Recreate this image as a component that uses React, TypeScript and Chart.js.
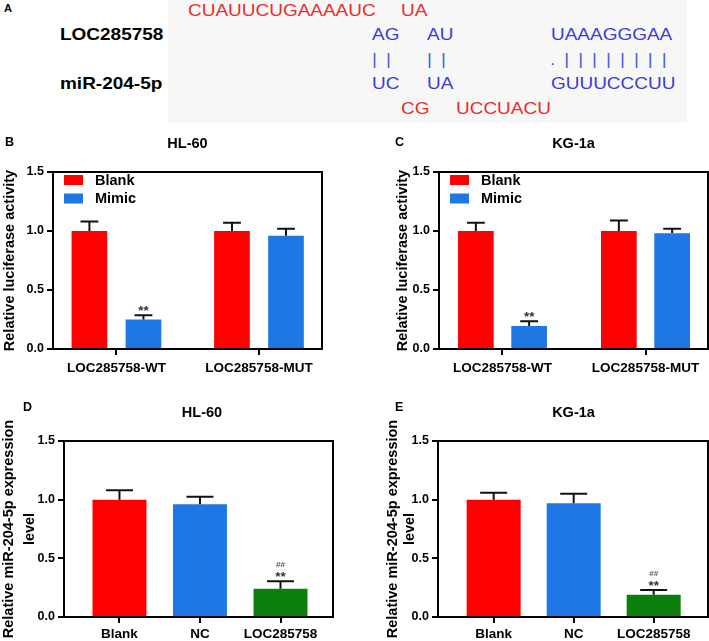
import React, { useEffect, useRef } from 'react';
import { Chart, registerables } from 'chart.js';

Chart.register(...registerables);

const FONT = 'Arial, "Liberation Sans", Helvetica, sans-serif';
Chart.defaults.font.family = FONT;
Chart.defaults.color = '#000';

// ---------- Panel A: sequence pairing ----------
const lncName = 'LOC285758';
const mirName = 'miR-204-5p';
const lncUnpaired = ['CUAUUCUGAAAAUC', 'UA'];
const lncPaired = ['AG', 'AU', 'UAAAGGGAA'];
const pairMarks = ['| |', '| |', '. | | | | | | | |'];
const mirPaired = ['UC', 'UA', 'GUUUCCCUU'];
const mirUnpaired = ['CG', 'UCCUACU'];

// ---------- Panels B / C: luciferase ----------
const lucCategories = ['LOC285758-WT', 'LOC285758-MUT'];
const lucSeriesNames = ['Blank', 'Mimic'];
const hl60LucBlank = [1.0, 1.0];
const hl60LucBlankErr = [0.08, 0.07];
const hl60LucMimic = [0.25, 0.96];
const hl60LucMimicErr = [0.035, 0.06];
const hl60LucMimicSig = [['**'], []];
const kgLucBlank = [1.0, 1.0];
const kgLucBlankErr = [0.07, 0.09];
const kgLucMimic = [0.195, 0.98];
const kgLucMimicErr = [0.04, 0.04];
const kgLucMimicSig = [['**'], []];

// ---------- Panels D / E: miR-204-5p expression ----------
const exprCategories = ['Blank', 'NC', 'LOC285758'];
const hl60Expr = [1.0, 0.96, 0.24];
const hl60ExprErr = [0.08, 0.065, 0.065];
const hl60ExprSig = [[], [], ['##', '**']];
const kgExpr = [1.0, 0.97, 0.19];
const kgExprErr = [0.06, 0.08, 0.04];
const kgExprSig = [[], [], ['##', '**']];

const yTicks = [0, 0.5, 1.0, 1.5];

const RED = '#ff0000';
const BLUE = '#1f77e6';
const GREEN = '#0b7f0b';
const TXT_RED = '#ec2b2b';
const TXT_BLUE = '#3b3bd6';
const PIPE_BLUE = '#4763e0';

type Series = { label: string; values: number[]; errors: number[]; color: string | string[]; sig?: string[][] };

type PanelCfg = {
  canvas: { left: number; top: number; width: number; height: number };
  plot: { left: number; top: number; right: number; bottom: number };
  categories: string[];
  series: Series[];
  xRange: [number, number];
  yTitle: string | string[];
  yTitleLineHeight: number;
  yTitlePad: number;
  xTickPad: number;
  categoryPercentage: number;
  barPercentage: number;
  legend: boolean;
};

const decorPlugin = {
  id: 'decor',
  afterDatasetsDraw(chart: any, _args: any, opts: any) {
    const { ctx, chartArea: a } = chart;
    const yScale = chart.scales.y;
    ctx.save();
    chart.data.datasets.forEach((ds: any, di: number) => {
      const meta = chart.getDatasetMeta(di);
      meta.data.forEach((bar: any, i: number) => {
        const val = ds.data[i].y;
        const err = ds.errors[i];
        const topPx = yScale.getPixelForValue(val + err);
        const half = bar.width / 4;
        ctx.strokeStyle = '#111';
        ctx.lineWidth = 2;
        ctx.beginPath();
        ctx.moveTo(bar.x, bar.y);
        ctx.lineTo(bar.x, topPx);
        ctx.moveTo(bar.x - half, topPx);
        ctx.lineTo(bar.x + half, topPx);
        ctx.stroke();
        const marks: string[] = (ds.sig && ds.sig[i]) || [];
        let base = topPx - 0.5;
        for (let k = marks.length - 1; k >= 0; k--) {
          const m = marks[k];
          const isHash = m.includes('#');
          ctx.font = `bold ${isHash ? 8 : 13.5}px ${FONT}`;
          ctx.fillStyle = isHash ? '#555' : '#333';
          ctx.textAlign = 'center';
          ctx.textBaseline = 'alphabetic';
          ctx.fillText(m, bar.x, base);
          base -= 13.5;
        }
      });
    });
    ctx.strokeStyle = '#000';
    ctx.lineWidth = 2;
    ctx.strokeRect(a.left, a.top, a.right - a.left, a.bottom - a.top);
    if (opts && opts.show) {
      chart.data.datasets.forEach((ds: any, di: number) => {
        const y0 = a.top + 3 + di * 18.5;
        ctx.fillStyle = ds.backgroundColor;
        ctx.fillRect(a.left + 11, y0, 19, 10);
        ctx.fillStyle = '#000';
        ctx.font = `bold 14.5px ${FONT}`;
        ctx.textAlign = 'left';
        ctx.textBaseline = 'middle';
        ctx.fillText(ds.label, a.left + 42, y0 + 5.5);
      });
    }
    ctx.restore();
  },
};

function BarPanel({ cfg }: { cfg: PanelCfg }) {
  const ref = useRef<HTMLCanvasElement>(null);
  useEffect(() => {
    const c = cfg.canvas;
    const p = cfg.plot;
    const chart = new Chart(ref.current as HTMLCanvasElement, {
      type: 'bar',
      data: {
        datasets: cfg.series.map((s) => ({
          label: s.label,
          data: s.values.map((v, i) => ({ x: i, y: v })),
          backgroundColor: s.color as any,
          borderWidth: 0,
          categoryPercentage: cfg.categoryPercentage,
          barPercentage: cfg.barPercentage,
          errors: s.errors,
          sig: s.sig,
        })) as any,
      },
      options: {
        responsive: false,
        animation: false,
        devicePixelRatio: 1,
        events: [],
        layout: {
          padding: { top: p.top - c.top, right: c.left + c.width - p.right, bottom: 0, left: 0 },
        },
        plugins: {
          legend: { display: false },
          title: { display: false },
          tooltip: { enabled: false },
          decor: { show: cfg.legend },
        } as any,
        scales: {
          x: {
            type: 'linear',
            min: cfg.xRange[0],
            max: cfg.xRange[1],
            offset: false,
            afterBuildTicks: (s: any) => {
              s.ticks = cfg.categories.map((_, i) => ({ value: i }));
            },
            afterFit: (s: any) => {
              s.height = c.top + c.height - p.bottom;
            },
            ticks: {
              callback: (v: any) => cfg.categories[Math.round(Number(v))],
              font: { size: 13.5, weight: 'bold', family: FONT },
              color: '#000',
              padding: cfg.xTickPad,
              maxRotation: 0,
              autoSkip: false,
            },
            grid: {
              display: true,
              drawOnChartArea: false,
              drawTicks: true,
              tickLength: 6,
              color: '#000',
              lineWidth: 2,
              offset: false,
            },
            border: { display: false },
          } as any,
          y: {
            type: 'linear',
            min: 0,
            max: 1.5,
            afterBuildTicks: (s: any) => {
              s.ticks = yTicks.map((v) => ({ value: v }));
            },
            afterFit: (s: any) => {
              s.width = p.left - c.left;
            },
            ticks: {
              callback: (v: any) => Number(v).toFixed(1),
              font: { size: 12.5, weight: 'bold', family: FONT },
              color: '#000',
              padding: 3,
            },
            grid: {
              display: true,
              drawOnChartArea: false,
              drawTicks: true,
              tickLength: 6,
              color: '#000',
              lineWidth: 2,
            },
            border: { display: false },
            title: {
              display: true,
              text: cfg.yTitle as any,
              color: '#000',
              font: { size: 14.5, weight: 'bold', family: FONT, lineHeight: cfg.yTitleLineHeight },
              padding: { top: cfg.yTitlePad, bottom: 0 },
            },
          } as any,
        },
      },
      plugins: [decorPlugin as any],
    });
    return () => chart.destroy();
  }, []);
  const c = cfg.canvas;
  return (
    <canvas
      ref={ref}
      width={c.width}
      height={c.height}
      style={{ position: 'absolute', left: c.left, top: c.top, width: c.width, height: c.height }}
    />
  );
}

const panelB: PanelCfg = {
  canvas: { left: 0, top: 125, width: 335, height: 260 },
  plot: { left: 53, top: 172, right: 322, bottom: 349 },
  categories: lucCategories,
  series: [
    { label: lucSeriesNames[0], values: hl60LucBlank, errors: hl60LucBlankErr, color: RED },
    { label: lucSeriesNames[1], values: hl60LucMimic, errors: hl60LucMimicErr, color: BLUE, sig: hl60LucMimicSig },
  ],
  xRange: [-0.445, 1.442],
  yTitle: 'Relative luciferase activity',
  yTitleLineHeight: 1.2,
  yTitlePad: 1,
  xTickPad: 5,
  categoryPercentage: 0.758,
  barPercentage: 0.66,
  legend: true,
};

const panelC: PanelCfg = {
  canvas: { left: 393, top: 125, width: 316, height: 260 },
  plot: { left: 439, top: 172, right: 708, bottom: 349 },
  categories: lucCategories,
  series: [
    { label: lucSeriesNames[0], values: kgLucBlank, errors: kgLucBlankErr, color: RED },
    { label: lucSeriesNames[1], values: kgLucMimic, errors: kgLucMimicErr, color: BLUE, sig: kgLucMimicSig },
  ],
  xRange: [-0.444, 1.437],
  yTitle: 'Relative luciferase activity',
  yTitleLineHeight: 1.2,
  yTitlePad: 1,
  xTickPad: 5,
  categoryPercentage: 0.745,
  barPercentage: 0.67,
  legend: true,
};

const panelD: PanelCfg = {
  canvas: { left: -2, top: 395, width: 345, height: 246 },
  plot: { left: 64, top: 441, right: 333, bottom: 617 },
  categories: exprCategories,
  series: [
    { label: 'expression', values: hl60Expr, errors: hl60ExprErr, color: [RED, BLUE, GREEN], sig: hl60ExprSig },
  ],
  xRange: [-0.689, 2.652],
  yTitle: ['Relative miR-204-5p expression', 'level'],
  yTitleLineHeight: 1.48,
  yTitlePad: 0,
  xTickPad: 3,
  categoryPercentage: 1,
  barPercentage: 0.67,
  legend: false,
};

const panelE: PanelCfg = {
  canvas: { left: 385, top: 395, width: 324, height: 246 },
  plot: { left: 438, top: 441, right: 708, bottom: 617 },
  categories: exprCategories,
  series: [
    { label: 'expression', values: kgExpr, errors: kgExprErr, color: [RED, BLUE, GREEN], sig: kgExprSig },
  ],
  xRange: [-0.696, 2.679],
  yTitle: ['Relative miR-204-5p expression', 'level'],
  yTitleLineHeight: 1.17,
  yTitlePad: 0,
  xTickPad: 3,
  categoryPercentage: 1,
  barPercentage: 0.675,
  legend: false,
};

function Txt(props: {
  x: number; y: number; size: number; text: string; bold?: boolean; color?: string;
  center?: boolean; sx?: number; ls?: number;
}) {
  const { x, y, size, text, bold, color, center, sx = 1, ls = 0 } = props;
  const w = 400;
  return (
    <div
      style={{
        position: 'absolute',
        left: center ? x - w / 2 : x,
        width: center ? w : undefined,
        textAlign: center ? 'center' : 'left',
        top: y - size / 2,
        fontSize: size,
        lineHeight: `${size}px`,
        fontFamily: FONT,
        fontWeight: bold ? 700 : 400,
        color: color || '#000',
        whiteSpace: 'pre',
        letterSpacing: ls,
        transform: sx !== 1 ? `scaleX(${sx})` : undefined,
        transformOrigin: center ? 'center center' : 'left center',
      }}
    >
      {text}
    </div>
  );
}

const seqRows = [
  { parts: lncUnpaired, xs: [187.5, 400.5], y: 10, color: TXT_RED, ls: 0 },
  { parts: lncPaired, xs: [372, 427, 550.5], y: 34, color: TXT_BLUE, ls: 0 },
  { parts: pairMarks, xs: [371.5, 426.5, 549.7], y: 59.5, color: PIPE_BLUE, ls: 1.62 },
  { parts: mirPaired, xs: [371.5, 427, 550.5], y: 83.5, color: TXT_BLUE, ls: 0 },
  { parts: mirUnpaired, xs: [401, 455.5], y: 108.5, color: TXT_RED, ls: 0 },
];

export default function App() {
  return (
    <div
      style={{
        position: 'absolute', left: 0, top: 0, width: 709, height: 641,
        background: '#fff', overflow: 'hidden', fontFamily: FONT,
      }}
    >
      <div style={{ position: 'absolute', left: 168, top: 0, width: 519, height: 123, background: '#f7f7f7' }} />
      <Txt x={4} y={8} size={11} bold text="A" />
      <Txt x={59.5} y={34} size={16.5} bold sx={1.15} text={lncName} />
      <Txt x={59.5} y={83.5} size={16.5} bold sx={1.15} text={mirName} />
      {seqRows.map((row, ri) =>
        row.parts.map((t, i) => (
          <Txt key={`${ri}-${i}`} x={row.xs[i]} y={row.y} size={16.5} sx={1.15} ls={row.ls} color={row.color} text={t} />
        ))
      )}

      <BarPanel cfg={panelB} />
      <BarPanel cfg={panelC} />
      <BarPanel cfg={panelD} />
      <BarPanel cfg={panelE} />

      <Txt x={5} y={142.5} size={12.5} bold text="B" />
      <Txt x={395} y={142.5} size={12.5} bold text="C" />
      <Txt x={23} y={407} size={12.5} bold text="D" />
      <Txt x={395} y={407} size={12.5} bold text="E" />

      <Txt x={187.5} y={143.5} size={14.5} bold center text="HL-60" />
      <Txt x={573.5} y={143.5} size={14.5} bold center text="KG-1a" />
      <Txt x={202} y={412.5} size={14.5} bold center text="HL-60" />
      <Txt x={573.5} y={412.5} size={14.5} bold center text="KG-1a" />
    </div>
  );
}
